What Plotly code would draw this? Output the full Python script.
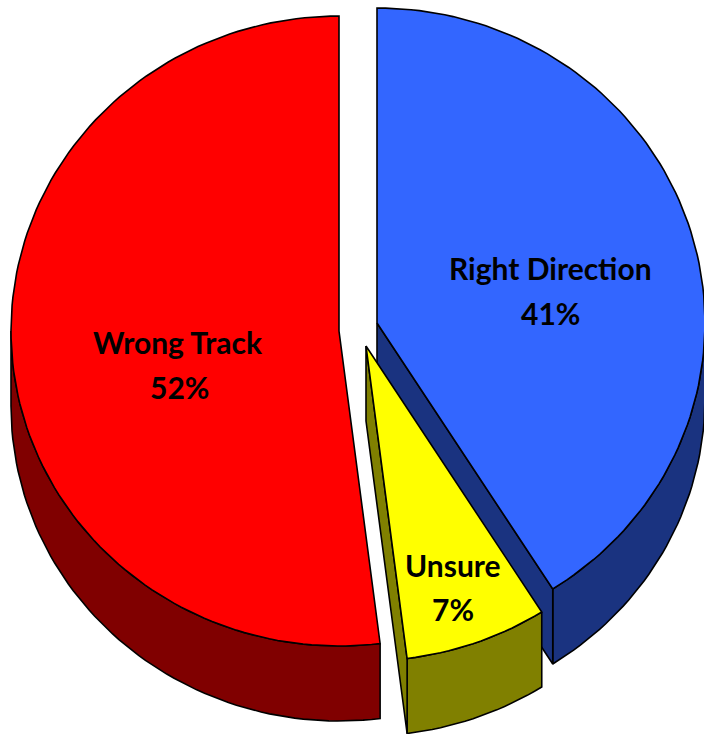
import math
import plotly.graph_objects as go

categories = ["Right Direction", "Unsure", "Wrong Track"]
shares = [41, 7, 52]
top_colors = ["#3366FF", "#FFFF00", "#FF0000"]
side_colors = ["#1A3380", "#808000", "#800000"]
apexes = [(377, 323), (366, 346), (339, 331)]
name_points = [(550, 268), (453, 565), (178, 342)]
share_points = [(550, 313), (453, 609), (179, 387)]

RX, RY, DEPTH = 328, 315, 75
LINE = dict(color="#000000", width=1.6)
LABEL_FONT = dict(family="Lato, sans-serif", size=30, color="#000000")


def rim(cx, cy, a0, a1):
    n = max(2, int(abs(a1 - a0) / 1.5) + 1)
    pts = []
    for i in range(n + 1):
        a = math.radians(a0 + (a1 - a0) * i / n)
        pts.append((cx + RX * math.sin(a), cy - RY * math.cos(a)))
    return pts


def poly(fig, pts, color):
    xs = [p[0] for p in pts] + [pts[0][0]]
    ys = [p[1] for p in pts] + [pts[0][1]]
    fig.add_trace(go.Scatter(x=xs, y=ys, mode="lines", fill="toself", fillcolor=color,
                             line=LINE, hoverinfo="skip", showlegend=False))


fig = go.Figure()
start = 0.0
total = sum(shares)
for share, top, side, (cx, cy) in zip(shares, top_colors, side_colors, apexes):
    end = start + 360.0 * share / total
    lo, hi = max(start, 90), min(end, 270)
    if hi > lo:
        arc = rim(cx, cy, lo, hi)
        poly(fig, arc + [(x, y + DEPTH) for x, y in reversed(arc)], side)
    ex, ey = rim(cx, cy, end, end)[0]
    if end < 180:
        poly(fig, [(cx, cy), (ex, ey), (ex, ey + DEPTH), (cx, cy + DEPTH)], side)
    poly(fig, [(cx, cy)] + rim(cx, cy, start, end), top)
    start = end

for name, share, (nx, ny), (sx, sy) in zip(categories, shares, name_points, share_points):
    fig.add_annotation(x=nx, y=ny, text=f"<b>{name}</b>", showarrow=False, font=LABEL_FONT)
    fig.add_annotation(x=sx, y=sy, text=f"<b>{share}%</b>", showarrow=False, font=LABEL_FONT)

fig.update_xaxes(range=[0, 704], visible=False, fixedrange=True)
fig.update_yaxes(range=[734, 0], visible=False, fixedrange=True)
fig.update_layout(width=704, height=734, margin=dict(l=0, r=0, t=0, b=0),
                  paper_bgcolor="#FFFFFF", plot_bgcolor="#FFFFFF", hovermode=False)
fig.write_html("out.html", config={"displayModeBar": False},
               post_script="document.body.style.margin='0';document.body.style.overflow='hidden';")
